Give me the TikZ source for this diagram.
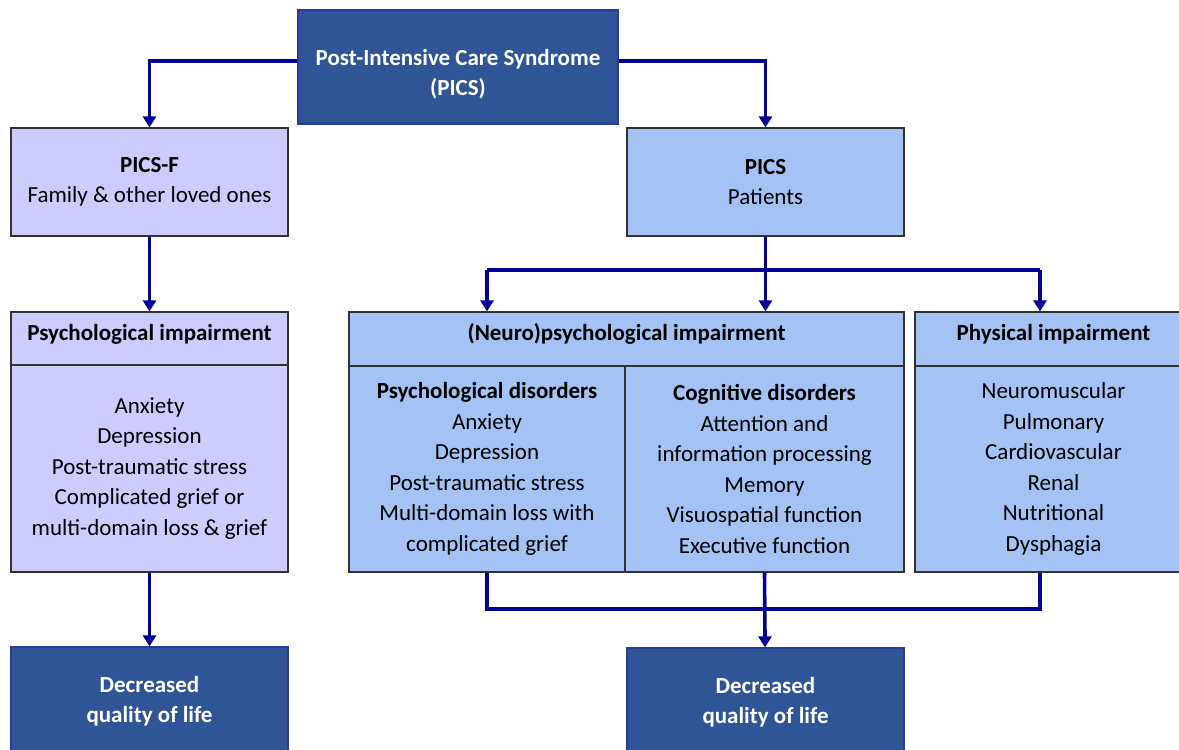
\documentclass[tikz,border=0pt]{standalone}
\usepackage{fontspec}
\setmainfont{Carlito}
\usepackage{tikz}
\usetikzlibrary{arrows.meta, positioning, calc}
\definecolor{pcsblue}{RGB}{47, 85, 151}
\definecolor{pcsedge}{RGB}{40, 60, 160}
\definecolor{lavender}{RGB}{204, 204, 255}
\definecolor{skyblue}{RGB}{164, 194, 244}
\definecolor{navyline}{RGB}{0, 0, 150}
\definecolor{darkgray}{RGB}{50, 50, 50}

\begin{document}
\begin{tikzpicture}[
        x=1pt, y=-1pt,
        every node/.style={font=\fontsize{23}{30.5}\selectfont},
        darkbox/.style={rectangle, draw=pcsedge, fill=pcsblue, line width=1.2pt, text=white, align=center, inner sep=0pt, font=\fontsize{23}{30.5}\selectfont\bfseries},
        famcell/.style={rectangle, draw=darkgray, fill=lavender, line width=1.2pt, align=center, inner sep=0pt},
        patcell/.style={rectangle, draw=darkgray, fill=skyblue, line width=1.2pt, align=center, inner sep=0pt},
        headcell/.style={font=\fontsize{23}{30.5}\selectfont\bfseries},
        flow/.style={-{Triangle[width=13pt, length=11pt]}, line width=3.6pt, draw=navyline},
        flowline/.style={line width=3.6pt, draw=navyline, line join=miter}
    ]
        \useasboundingbox (0,0) rectangle (1179,750);

        % top
        \node[darkbox, minimum width=320, minimum height=114] (pics) at (458,67) {\raisebox{-13.5pt}[0pt][0pt]{\parbox{310pt}{\centering Post-Intensive Care Syndrome\\(PICS)}}};

        % family branch
        \node[famcell, minimum width=277, minimum height=108] (picsf) at (149.5,182) {\textbf{PICS-F}\\Family \& other loved ones};
        \node[famcell, headcell, minimum width=277, minimum height=53] (famhead) at (149.5,338.5) {\raisebox{-1.5pt}[0pt][0pt]{Psychological impairment}};
        \node[famcell, minimum width=277, minimum height=207] (fambody) at (149.5,468.5) {Anxiety\\Depression\\Post-traumatic stress\\Complicated grief or\\multi-domain loss \& grief};
        \node[darkbox, minimum width=277, minimum height=108] (famqol) at (149.5,701) {Decreased\\quality of life};

        % patient branch
        \node[patcell, minimum width=277, minimum height=108] (patients) at (765.5,182) {\textbf{PICS}\\Patients};
        \node[patcell, headcell, minimum width=555, minimum height=54] (neurohead) at (626.5,339) {\raisebox{-1.5pt}[0pt][0pt]{(Neuro)psychological impairment}};
        \node[patcell, minimum width=276, minimum height=206] (psydis) at (487,469) {\textbf{Psychological disorders}\\Anxiety\\Depression\\Post-traumatic stress\\Multi-domain loss with\\complicated grief};
        \node[patcell, minimum width=279, minimum height=206] (cogdis) at (764.5,469) {\textbf{Cognitive disorders}\\Attention and\\information processing\\Memory\\Visuospatial function\\Executive function};
        \node[patcell, headcell, minimum width=277, minimum height=54] (physhead) at (1053.5,339) {\raisebox{-1.5pt}[0pt][0pt]{Physical impairment}};
        \node[patcell, minimum width=277, minimum height=206] (physbody) at (1053.5,469) {Neuromuscular\\Pulmonary\\Cardiovascular\\Renal\\Nutritional\\Dysphagia};
        \node[darkbox, minimum width=277, minimum height=108] (patqol) at (765.5,702) {Decreased\\quality of life};

        \coordinate (split) at (765.5,270);
        \coordinate (physin) at ($(physhead.north)+(-13.5,0)$);
        \coordinate (physout) at ($(physbody.south)+(-13.5,0)$);
        \coordinate (join) at (765.5,609);

        \draw[flow] ([yshift=6pt]pics.west) -| (picsf);
        \draw[flow] ([yshift=6pt]pics.east) -| (patients);
        \draw[flow] (picsf) -- (famhead);
        \draw[flow] (fambody) -- (famqol);

        \draw[flow] (patients) -- (patients.south |- neurohead.north);
        \draw[flowline] (psydis.north |- split) -- (physin |- split);
        \draw[flow] (psydis.north |- split) -- (psydis.north |- neurohead.north);
        \draw[flow] (physin |- split) -- (physin);

        \draw[flowline] (psydis.south) |- (physout |- join) -- (physout);
        \draw[flow] (cogdis.south) -- (patqol);
    \end{tikzpicture}
\end{document}
